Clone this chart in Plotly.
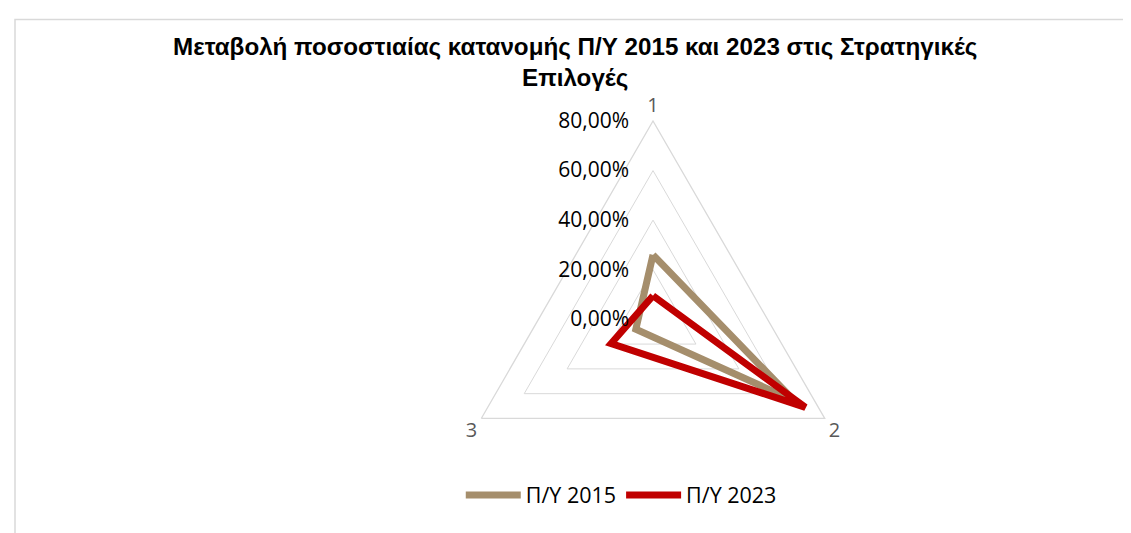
import plotly.graph_objects as go

categories = ["1", "2", "3"]
series_names = ["Π/Υ 2015", "Π/Υ 2023"]
values_2015 = [0.26, 0.66, 0.08]
values_2023 = [0.095, 0.71, 0.195]
series_values = [values_2015, values_2023]
series_colors = ["#A58E6C", "#C00000"]
radial_ticks = [0, 0.2, 0.4, 0.6, 0.8]
radial_ticktext = ["0,00%", "20,00%", "40,00%", "60,00%", "80,00%"]
title_lines = ["Μεταβολή ποσοστιαίας κατανομής Π/Υ 2015 και 2023 στις Στρατηγικές", "Επιλογές"]

W, H = 1131, 533
ml, mr, mt, mb = 10, 10, 100, 10
pw, ph = W - ml - mr, H - mt - mb

# domain box (plotly re-centres the triangular grid inside it)
cx, cy, R = 645.0, 311.3, 198.3
dx0 = (cx - R - ml) / pw
dx1 = (cx + R - ml) / pw
dy0 = (H - mb - (cy + R)) / ph
dy1 = (H - mb - (cy - R)) / ph

fig = go.Figure()
for name, vals, col in zip(series_names, series_values, series_colors):
    fig.add_trace(go.Scatterpolar(
        r=vals + vals[:1],
        theta=categories + categories[:1],
        mode="lines",
        name=name,
        line=dict(color=col, width=7),
    ))

fig.update_layout(
    width=W, height=H,
    margin=dict(l=ml, r=mr, t=mt, b=mb),
    paper_bgcolor="white",
    showlegend=True,
    polar=dict(
        domain=dict(x=[dx0, dx1], y=[dy0, dy1]),
        gridshape="linear",
        bgcolor="white",
        radialaxis=dict(
            range=[0, 0.8],
            tickvals=radial_ticks,
            ticktext=radial_ticktext,
            angle=90,
            tickangle=90,
            side="counterclockwise",
            showline=False,
            gridcolor="#D9D9D9",
            gridwidth=1.3,
            ticks="outside",
            ticklen=16,
            tickcolor="rgba(0,0,0,0)",
            tickfont=dict(family="Open Sans", size=21, color="#000000"),
        ),
        angularaxis=dict(
            direction="clockwise",
            rotation=90,
            showgrid=False,
            showline=True,
            linecolor="#D9D9D9",
            linewidth=1.3,
            ticks="",
            tickfont=dict(family="Open Sans", size=20, color="#595959"),
        ),
    ),
    legend=dict(
        orientation="h",
        x=0.543, xanchor="center",
        y=(H - mb - 487) / ph, yanchor="middle",
        font=dict(family="Open Sans", size=21.5, color="#000000"),
        itemwidth=55,
    ),
    annotations=[dict(
        text="<br>".join("<b>" + t + "</b>" for t in title_lines),
        x=(567 - ml) / pw, xref="paper", xanchor="center",
        y=(H - mb - 23) / ph, yref="paper", yanchor="top",
        showarrow=False,
        font=dict(family="Liberation Sans", size=24.2, color="#000000"),
        align="center",
    )],
    shapes=[dict(
        type="rect", xref="paper", yref="paper",
        x0=(7 - ml) / pw, x1=1.02,
        y0=-0.05, y1=(H - mb - 11.5) / ph,
        line=dict(color="#D9D9D9", width=1.5),
        layer="below",
    )],
)

fig.write_html("out.html")
